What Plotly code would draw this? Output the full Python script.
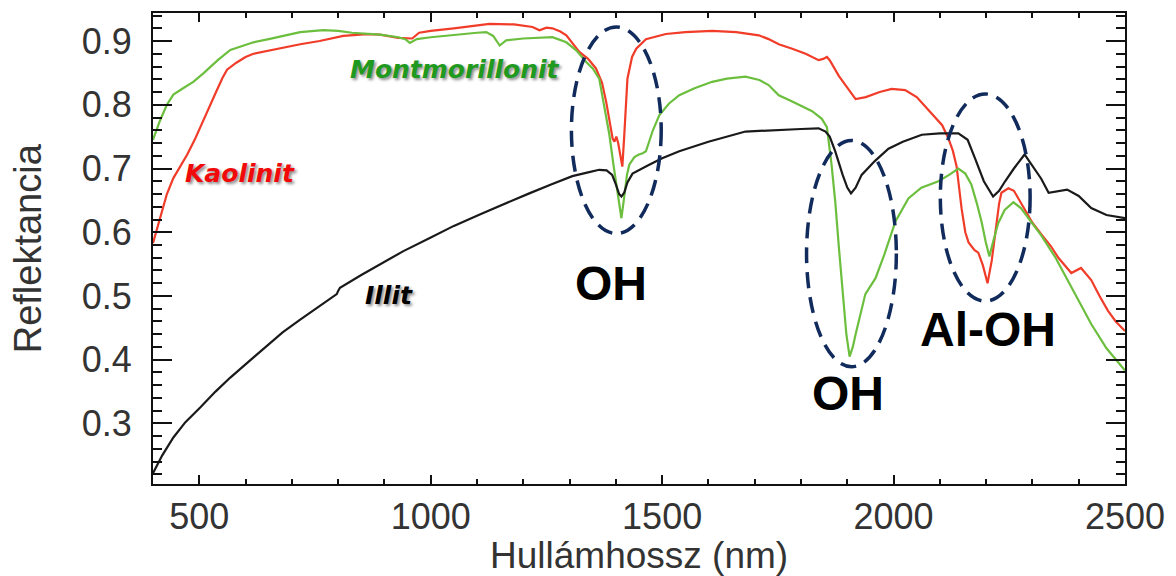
import plotly.graph_objects as go

# ---- data (wavelength nm, reflectance) ----
kaol_x = [400, 415, 430, 444, 460, 474, 490, 505, 517, 535, 550, 560, 580, 600, 617, 650, 700, 718, 760, 811, 862,
          890, 930, 960, 975, 1000, 1050, 1100, 1127, 1180, 1220, 1235, 1250, 1263, 1280, 1293, 1310, 1321, 1340,
          1357, 1370, 1379, 1387, 1393, 1397, 1401, 1405, 1410, 1414, 1418, 1421, 1425, 1435, 1444, 1465, 1490,
          1508, 1550, 1608, 1660, 1709, 1730, 1752, 1781, 1810, 1838, 1848, 1856, 1862, 1882, 1900, 1918, 1940,
          1970, 1996, 2025, 2050, 2082, 2105, 2118, 2128, 2136, 2147, 2155, 2162, 2175, 2183, 2193, 2203, 2212,
          2220, 2228, 2233, 2248, 2260, 2276, 2300, 2319, 2340, 2356, 2384, 2405, 2427, 2445, 2463, 2480, 2500]
kaol_y = [0.583, 0.620, 0.660, 0.685, 0.705, 0.722, 0.745, 0.770, 0.789, 0.818, 0.842, 0.855, 0.866, 0.875, 0.880,
          0.885, 0.892, 0.895, 0.900, 0.908, 0.911, 0.910, 0.905, 0.904, 0.913, 0.916, 0.920, 0.924, 0.927, 0.926,
          0.922, 0.917, 0.921, 0.920, 0.915, 0.909, 0.893, 0.883, 0.872, 0.857, 0.835, 0.805, 0.772, 0.747, 0.742,
          0.750, 0.740, 0.715, 0.703, 0.750, 0.800, 0.841, 0.875, 0.888, 0.903, 0.908, 0.911, 0.914, 0.916, 0.914,
          0.909, 0.903, 0.895, 0.888, 0.880, 0.870, 0.872, 0.875, 0.870, 0.845, 0.826, 0.809, 0.812, 0.820, 0.825,
          0.823, 0.812, 0.787, 0.768, 0.748, 0.728, 0.704, 0.637, 0.600, 0.584, 0.572, 0.568, 0.548, 0.520, 0.555,
          0.601, 0.645, 0.662, 0.669, 0.665, 0.645, 0.615, 0.597, 0.578, 0.560, 0.536, 0.544, 0.525, 0.500, 0.477,
          0.460, 0.445]

mont_x = [400, 415, 430, 444, 465, 487, 510, 540, 567, 590, 617, 650, 690, 718, 768, 800, 830, 862, 891, 930, 945,
          955, 962, 970, 1000, 1050, 1100, 1120, 1135, 1149, 1163, 1200, 1263, 1293, 1315, 1336, 1350, 1364, 1375,
          1386, 1395, 1401, 1407, 1412, 1418, 1424, 1429, 1440, 1450, 1458, 1465, 1480, 1494, 1515, 1537, 1570,
          1608, 1640, 1680, 1710, 1730, 1752, 1781, 1805, 1824, 1845, 1856, 1866, 1874, 1882, 1890, 1898, 1905,
          1912, 1918, 1931, 1939, 1961, 1980, 2004, 2032, 2060, 2097, 2120, 2140, 2155, 2168, 2180, 2190, 2199,
          2207, 2215, 2226, 2240, 2259, 2275, 2291, 2319, 2350, 2392, 2427, 2460, 2500]
mont_y = [0.745, 0.775, 0.800, 0.816, 0.826, 0.836, 0.850, 0.870, 0.886, 0.892, 0.898, 0.903, 0.910, 0.914, 0.917,
          0.916, 0.913, 0.911, 0.910, 0.906, 0.903, 0.897, 0.900, 0.903, 0.906, 0.910, 0.913, 0.914, 0.908, 0.893,
          0.901, 0.904, 0.906, 0.898, 0.885, 0.867, 0.857, 0.841, 0.800, 0.753, 0.705, 0.675, 0.645, 0.622, 0.655,
          0.690, 0.706, 0.718, 0.722, 0.724, 0.727, 0.760, 0.784, 0.802, 0.815, 0.826, 0.836, 0.841, 0.844, 0.839,
          0.831, 0.815, 0.805, 0.797, 0.790, 0.778, 0.765, 0.706, 0.648, 0.575, 0.500, 0.440, 0.405, 0.420, 0.440,
          0.481, 0.503, 0.528, 0.565, 0.617, 0.653, 0.670, 0.680, 0.690, 0.700, 0.692, 0.675, 0.645, 0.617, 0.585,
          0.562, 0.585, 0.614, 0.635, 0.647, 0.638, 0.622, 0.595, 0.560, 0.503, 0.456, 0.418, 0.383]

illit_x = [400, 420, 444, 470, 502, 535, 567, 600, 646, 680, 718, 760, 797, 800, 804, 850, 890, 940, 998, 1050,
           1106, 1160, 1213, 1260, 1306, 1340, 1364, 1380, 1392, 1400, 1407, 1412, 1418, 1425, 1436, 1470, 1500,
           1537, 1600, 1680, 1752, 1800, 1838, 1853, 1862, 1874, 1890, 1900, 1908, 1918, 1931, 1960, 1989, 2020,
           2061, 2100, 2140, 2160, 2176, 2195, 2215, 2228, 2241, 2260, 2283, 2300, 2319, 2335, 2355, 2375, 2400,
           2427, 2460, 2500]
illit_y = [0.222, 0.250, 0.278, 0.302, 0.325, 0.350, 0.372, 0.393, 0.422, 0.443, 0.463, 0.485, 0.503, 0.508, 0.513,
           0.533, 0.550, 0.570, 0.591, 0.610, 0.628, 0.645, 0.661, 0.675, 0.688, 0.694, 0.698, 0.697, 0.690, 0.675,
           0.660, 0.656, 0.662, 0.678, 0.692, 0.705, 0.716, 0.727, 0.742, 0.758, 0.761, 0.762, 0.763, 0.758, 0.750,
           0.727, 0.690, 0.670, 0.661, 0.670, 0.690, 0.712, 0.731, 0.742, 0.753, 0.755, 0.755, 0.745, 0.716, 0.680,
           0.656, 0.665, 0.680, 0.700, 0.722, 0.705, 0.684, 0.662, 0.664, 0.667, 0.657, 0.638, 0.627, 0.622]

# axis tick spacing (major / minor)
x_major, x_minor = 500, 100
y_major, y_minor = 0.1, 0.02

# ellipses marking absorption bands: (x0, x1, y0, y1) in data units
bands = [(1304, 1498, 0.598, 0.922), (1812, 2006, 0.389, 0.744), (2101, 2295, 0.492, 0.817)]

fig = go.Figure()
fig.add_trace(go.Scatter(x=kaol_x, y=kaol_y, mode="lines", line=dict(color="#f03c28", width=2.2), name="Kaolinit"))
fig.add_trace(go.Scatter(x=mont_x, y=mont_y, mode="lines", line=dict(color="#6cbf3e", width=2.2), name="Montmorillonit"))
fig.add_trace(go.Scatter(x=illit_x, y=illit_y, mode="lines", line=dict(color="#1a1a1a", width=2.2), name="Illit"))

for x0, x1, y0, y1 in bands:
    fig.add_shape(type="circle", xref="x", yref="y", x0=x0, x1=x1, y0=y0, y1=y1,
                  line=dict(color="#112b5c", width=3.5, dash="16px,9px"), layer="above")

tick_font = dict(family="Liberation Sans, Arial, Helvetica", size=36, color="#333333")
shadow = "2px 2px 3px rgba(0,0,0,0.45)"
lbl = dict(family="DejaVu Sans", size=25, weight="bold", style="italic")

anns = [
    dict(text="Kaolinit", x=589, y=0.692, font=dict(color="#f00a0a", shadow=shadow, **lbl)),
    dict(text="Montmorillonit", x=1052, y=0.855, font=dict(color="#1f9a1f", shadow=shadow, **lbl)),
    dict(text="Illit", x=910, y=0.500, font=dict(color="#000000", shadow=shadow, **lbl)),
    dict(text="OH", x=1390, y=0.519, font=dict(family="Liberation Sans, Arial", size=48, weight="bold", color="#000")),
    dict(text="OH", x=1901, y=0.347, font=dict(family="Liberation Sans, Arial", size=48, weight="bold", color="#000")),
    dict(text="Al-OH", x=2205, y=0.448, font=dict(family="Liberation Sans, Arial", size=48, weight="bold", color="#000")),
]
for a in anns:
    fig.add_annotation(xref="x", yref="y", showarrow=False, xanchor="center", yanchor="middle", **a)

fig.add_annotation(text="Hullámhossz (nm)", xref="paper", yref="paper", x=0.5, y=-0.152,
                   xanchor="center", yanchor="middle", showarrow=False,
                   font=dict(family="Liberation Sans, Arial", size=37, color="#333333"))
fig.add_annotation(text="Reflektancia", xref="paper", yref="paper", x=-0.1288, y=0.5, textangle=-90,
                   xanchor="center", yanchor="middle", showarrow=False,
                   font=dict(family="Liberation Sans, Arial", size=38, color="#333333"))

fig.update_xaxes(range=[400, 2500], tickmode="linear", tick0=500, dtick=x_major,
                 ticks="inside", ticklen=9, tickwidth=2, tickcolor="#111",
                 showline=True, linecolor="#111", linewidth=2, mirror="allticks", showgrid=False, zeroline=False,
                 tickfont=tick_font, ticklabelstandoff=0,
                 minor=dict(tickmode="linear", tick0=0, dtick=x_minor, ticks="inside", ticklen=5, tickwidth=2,
                            tickcolor="#111", showgrid=False))
fig.update_yaxes(range=[0.205, 0.944], tickmode="linear", tick0=0.3, dtick=y_major, tickformat=".1f",
                 ticks="inside", ticklen=19, tickwidth=2, tickcolor="#111",
                 showline=True, linecolor="#111", linewidth=2, mirror="allticks", showgrid=False, zeroline=False,
                 tickfont=tick_font, ticklabelstandoff=12,
                 minor=dict(tickmode="linear", tick0=0, dtick=y_minor, ticks="inside", ticklen=9, tickwidth=2,
                            tickcolor="#111", showgrid=False))

fig.update_layout(width=1176, height=576, margin=dict(l=153, r=48, t=11, b=92),
                  plot_bgcolor="white", paper_bgcolor="white", showlegend=False)

fig.write_html("out.html")
